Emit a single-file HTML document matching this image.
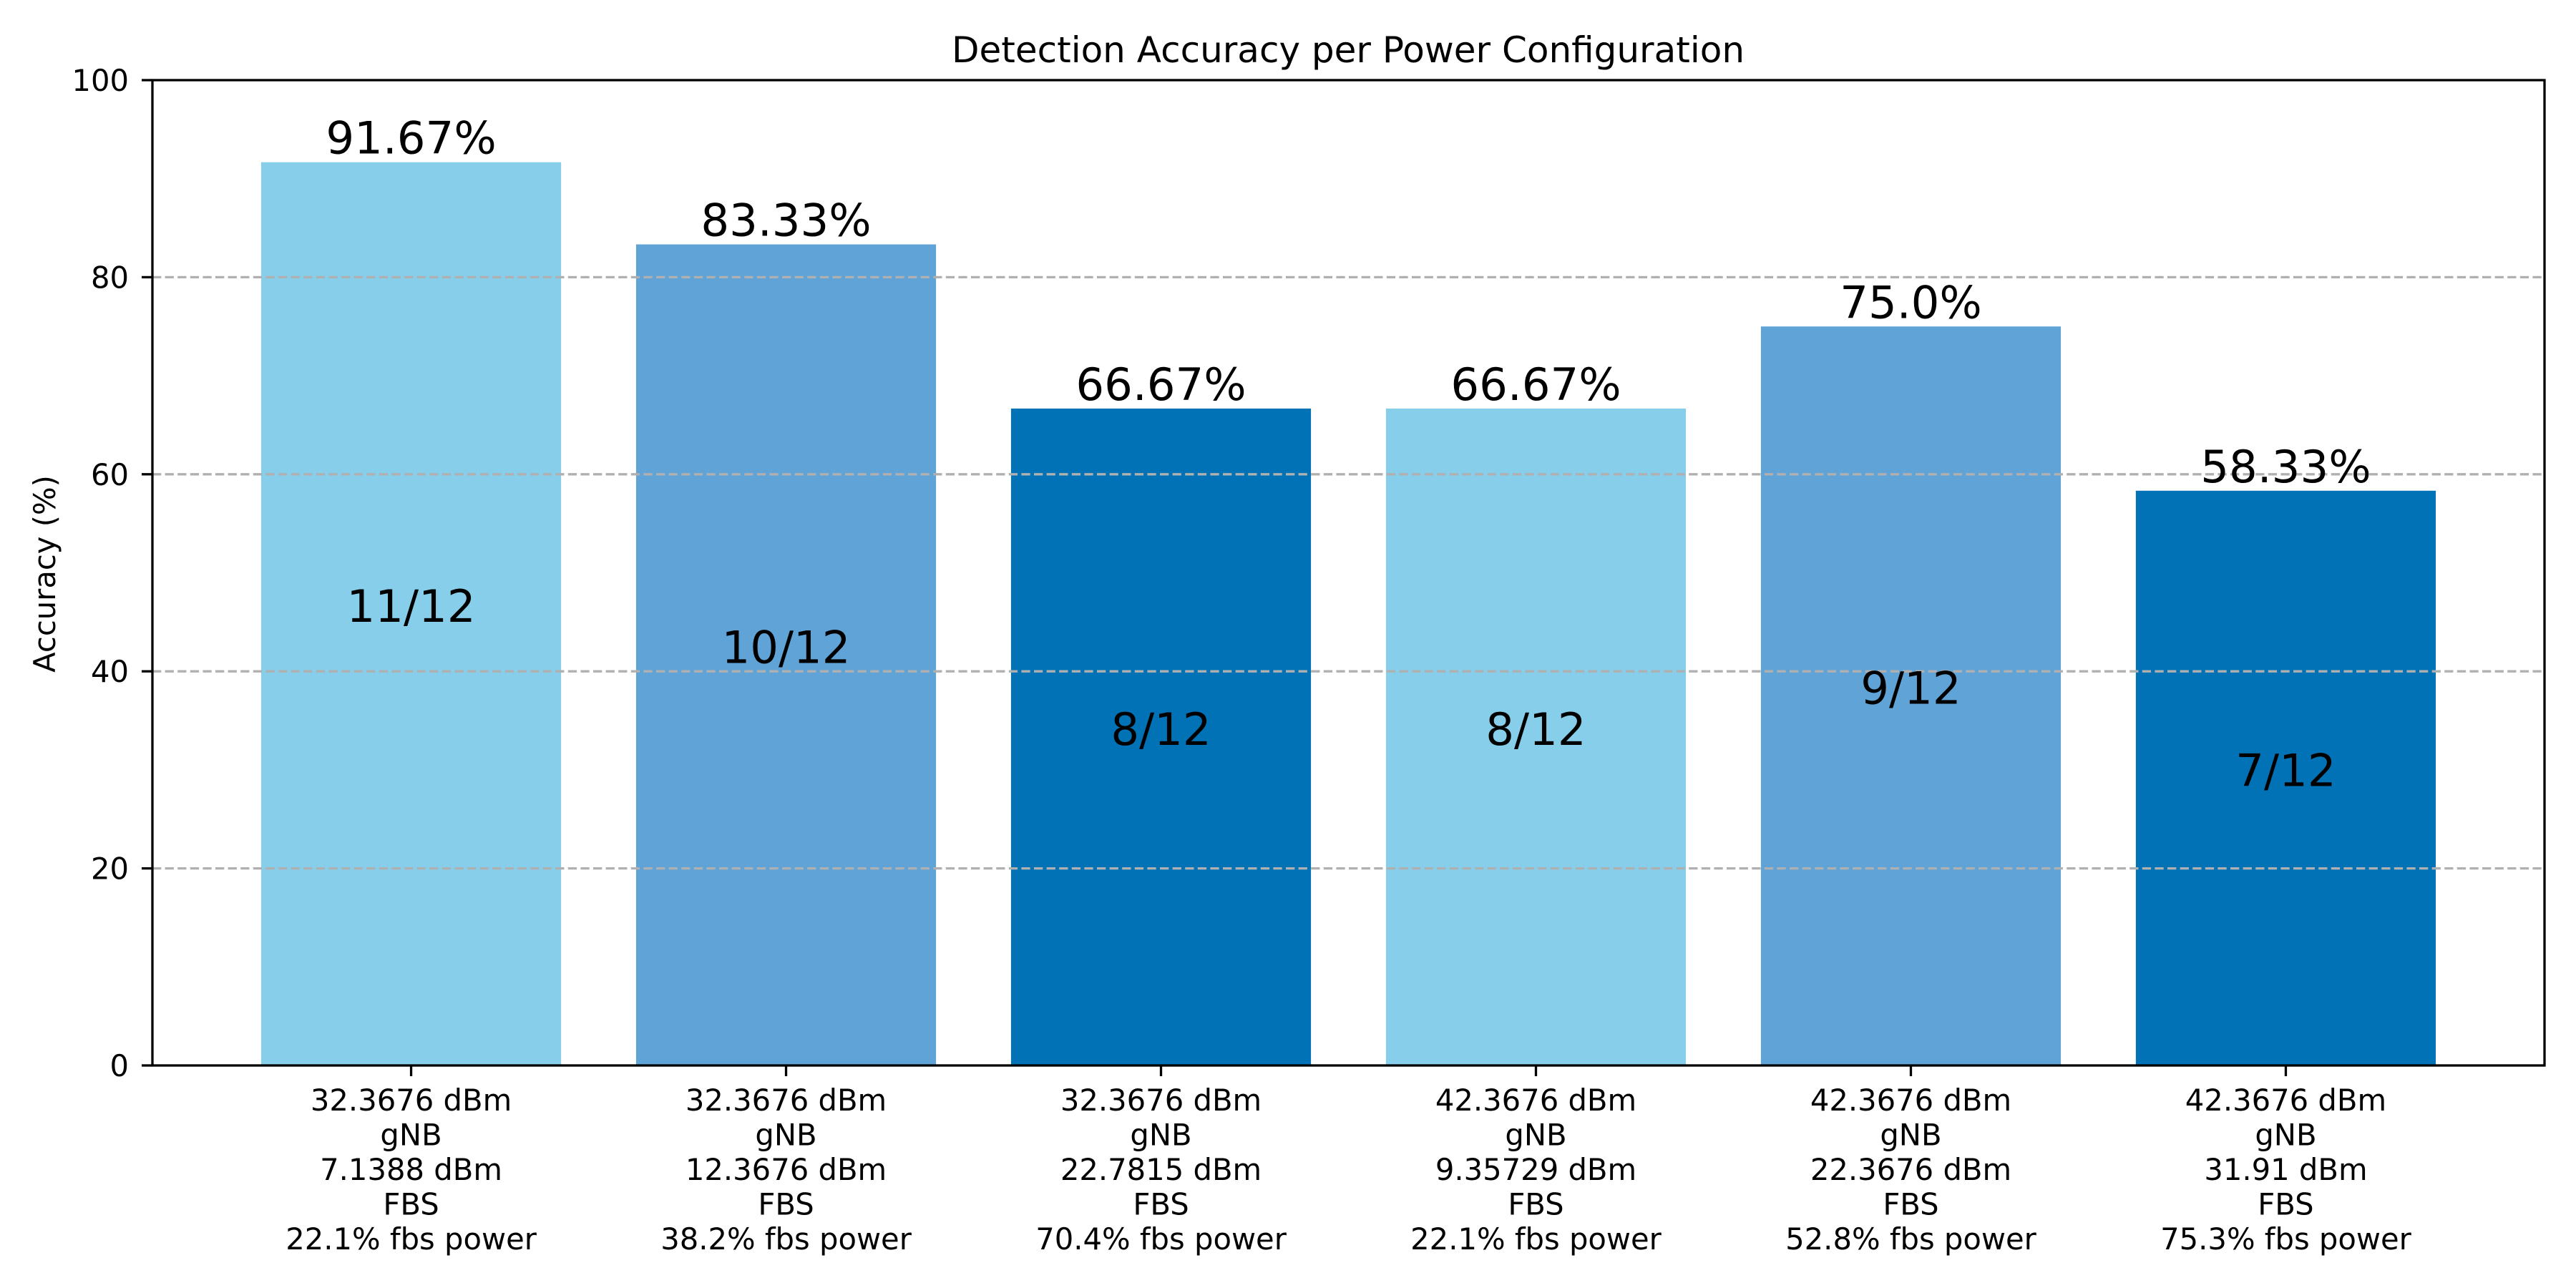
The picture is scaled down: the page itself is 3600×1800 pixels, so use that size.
<!DOCTYPE html>
<html><head><meta charset="utf-8"><style>
html,body{margin:0;padding:0;background:#fff;}
svg{display:block;font-family:"DejaVu Sans","Liberation Sans",sans-serif;}
</style></head><body>
<svg id="chart" width="3600" height="1800" viewBox="0 0 3600 1800" xmlns="http://www.w3.org/2000/svg">
<rect x="0" y="0" width="3600" height="1800" fill="#fff"/>
<text x="1884" y="87" font-size="50" text-anchor="middle">Detection Accuracy per Power Configuration</text>
<text transform="translate(77,802) rotate(-90)" font-size="41.7" text-anchor="middle">Accuracy (%)</text>
<g id="bars"></g>
<g id="grid"></g>
<g id="labels"></g>
<g id="yaxis"></g>
<g id="xaxis"></g>
<rect x="213" y="112" width="3343" height="1377" fill="none" stroke="#000" stroke-width="3.3"/>
</svg>
<script>
const categories = [
  ["32.3676 dBm","gNB","7.1388 dBm","FBS","22.1% fbs power"],
  ["32.3676 dBm","gNB","12.3676 dBm","FBS","38.2% fbs power"],
  ["32.3676 dBm","gNB","22.7815 dBm","FBS","70.4% fbs power"],
  ["42.3676 dBm","gNB","9.35729 dBm","FBS","22.1% fbs power"],
  ["42.3676 dBm","gNB","22.3676 dBm","FBS","52.8% fbs power"],
  ["42.3676 dBm","gNB","31.91 dBm","FBS","75.3% fbs power"]
];
const accuracy = [91.67, 83.33, 66.67, 66.67, 75.0, 58.33];
const valueLabels = ["91.67%","83.33%","66.67%","66.67%","75.0%","58.33%"];
const countLabels = ["11/12","10/12","8/12","8/12","9/12","7/12"];
const yTicks = [0, 20, 40, 60, 80, 100];
const barColors = ["#87CEEB","#5FA3D7","#0072B5"];

const NS = "http://www.w3.org/2000/svg";
const L = 213, R = 3556, T = 112, B = 1489;
const xMin = -0.69, xMax = categories.length - 1 + 0.69;
const yMin = 0, yMax = 100;
function xs(v){ return L + (v - xMin) / (xMax - xMin) * (R - L); }
function ys(v){ return B - (v - yMin) / (yMax - yMin) * (B - T); }
function mk(tag, attrs, parent){
  const e = document.createElementNS(NS, tag);
  for (const k in attrs) e.setAttribute(k, attrs[k]);
  parent.appendChild(e); return e;
}
const gB = document.getElementById('bars'), gG = document.getElementById('grid'),
      gL = document.getElementById('labels'), gY = document.getElementById('yaxis'),
      gX = document.getElementById('xaxis');
const bw = 0.8;
accuracy.forEach((v, i) => {
  const x0 = xs(i - bw/2), x1 = xs(i + bw/2), yt = ys(v), mid = (yt + ys(0)) / 2;
  const r = mk('rect', {x:x0, y:yt, width:x1-x0, height:ys(0)-yt, fill:barColors[i%3]}, gB);
  
  
  const t1 = mk('text', {x:xs(i), y:yt-12, 'font-size':62.5, 'text-anchor':'middle'}, gL);
  t1.textContent = valueLabels[i];
  
  
  const t2 = mk('text', {x:xs(i), y:mid+11, 'font-size':62.5, 'text-anchor':'middle'}, gL);
  t2.textContent = countLabels[i];
  
  
  const tk = mk('line', {x1:xs(i), x2:xs(i), y1:B, y2:B+15, stroke:'#000', 'stroke-width':3.3}, gX);
  
  
  const tl = mk('text', {x:xs(i), y:1552, 'font-size':41.7, 'text-anchor':'middle'}, gX);
  
  
  categories[i].forEach((line, j) => {
    const ts = mk('tspan', {x:xs(i), dy: j===0 ? 0 : 48.5}, tl);
    ts.textContent = line;
  });
});
yTicks.forEach(v => {
  const y = ys(v);
  if (v > yMin && v < yMax) {
    const gl = mk('line', {x1:L, x2:R, y1:y, y2:y, stroke:'#b0b0b0', 'stroke-width':3.3, 'stroke-dasharray':'12.3,5.3'}, gG);
    
    
  }
  const tk = mk('line', {x1:L-15, x2:L, y1:y, y2:y, stroke:'#000', 'stroke-width':3.3}, gY);
  
  
  const t = mk('text', {x:180, y:y+15, 'font-size':41.7, 'text-anchor':'end'}, gY);
  t.textContent = String(v);
  
  
});
</script>
</body></html>
